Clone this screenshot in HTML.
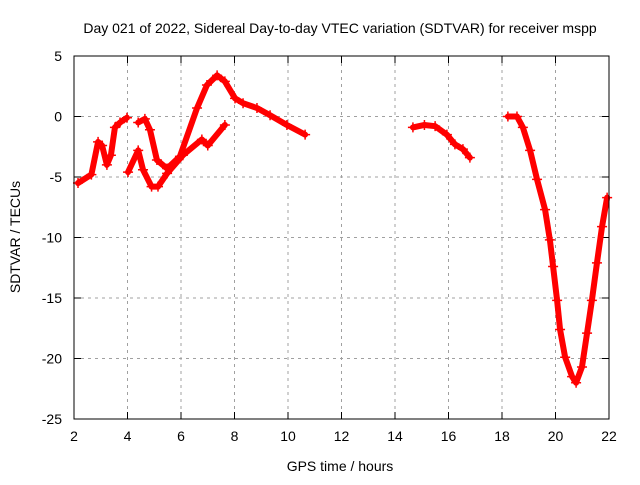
<!DOCTYPE html>
<html><head><meta charset="utf-8"><style>
body{margin:0;background:#fff}
svg text{font-family:"Liberation Sans",sans-serif;font-size:14px;fill:#000}
</style></head><body>
<svg id="c" width="640" height="480">
<text x="340" y="33" text-anchor="middle">Day 021 of 2022, Sidereal Day-to-day VTEC variation (SDTVAR) for receiver mspp</text>
<text x="340" y="471" text-anchor="middle">GPS time / hours</text>
<text transform="translate(20,237) rotate(-90)" text-anchor="middle">SDTVAR / TECUs</text>
<g id="grid"></g><g id="data"></g>
<rect x="74" y="56" width="535" height="363" fill="none" stroke="#000" stroke-width="1"/>
</svg>
<script>
const xTicks=[2,4,6,8,10,12,14,16,18,20,22];
const yTicks=[5,0,-5,-10,-15,-20,-25];
const segA=[[2.15,-5.5],[2.65,-4.8],[2.9,-2.1],[3.05,-2.4],[3.23,-4.0],[3.38,-3.2],[3.53,-0.9],[3.72,-0.5],[3.98,-0.1]];
const segB=[[4.02,-4.6],[4.4,-2.8],[4.58,-4.4],[4.9,-5.8],[5.14,-5.8],[5.48,-4.7],[6.07,-3.2],[6.78,-1.9],[7.0,-2.4],[7.64,-0.7]];
const segC=[[4.4,-0.5],[4.65,-0.2],[4.84,-1.1],[5.1,-3.6],[5.48,-4.3],[5.96,-3.3],[6.6,0.7],[6.97,2.6],[7.35,3.4],[7.64,2.9],[8.02,1.5],[8.32,1.1],[8.84,0.7],[9.33,0.1],[9.96,-0.7],[10.64,-1.5]];
const segD=[[14.67,-0.9],[15.1,-0.7],[15.5,-0.8],[15.94,-1.5],[16.24,-2.3],[16.54,-2.7],[16.8,-3.4]];
const segE=[[18.22,0.0],[18.56,0.0],[18.78,-0.9],[19.05,-2.8],[19.31,-5.2],[19.61,-7.7],[19.79,-10.2],[19.91,-12.4],[20.06,-15.2],[20.17,-17.6],[20.36,-19.9],[20.62,-21.5],[20.77,-22.0],[20.99,-20.7],[21.18,-17.9],[21.36,-15.2],[21.55,-12.1],[21.74,-9.1],[21.93,-6.7]];
const X=t=>74+(t-2)*535/20, Y=v=>56+(5-v)*363/30;
const NS="http://www.w3.org/2000/svg";
const svg=document.getElementById('c'),g=document.getElementById('grid'),d=document.getElementById('data');
function mk(tag,at,p){const e=document.createElementNS(NS,tag);for(const k in at)e.setAttribute(k,at[k]);p.appendChild(e);return e;}
xTicks.forEach(t=>{
 if(t>2&&t<22){const l=mk('line',{x1:X(t),x2:X(t),y1:56,y2:419,stroke:'#a0a0a0','stroke-dasharray':'3,4'},g);
 
 }
 mk('line',{x1:X(t),x2:X(t),y1:419,y2:412,stroke:'#000'},g);mk('line',{x1:X(t),x2:X(t),y1:56,y2:63,stroke:'#000'},g);
 const tx=mk('text',{x:X(t),y:441,'text-anchor':'middle'},g);tx.textContent=t;
 
 
});
yTicks.forEach(v=>{
 if(v<5&&v>-25){const l=mk('line',{x1:74,x2:609,y1:Y(v),y2:Y(v),stroke:'#a0a0a0','stroke-dasharray':'3,4'},g);
 
 }
 mk('line',{x1:74,x2:81,y1:Y(v),y2:Y(v),stroke:'#000'},g);mk('line',{x1:602,x2:609,y1:Y(v),y2:Y(v),stroke:'#000'},g);
 const tx=mk('text',{x:62,y:Y(v)+5,'text-anchor':'end'},g);tx.textContent=v;
 
 
});
[segA,segB,segC,segD,segE].forEach(s=>{
 const pl=mk('polyline',{points:s.map(p=>X(p[0])+','+Y(p[1])).join(' '),fill:'none',stroke:'#f00','stroke-width':6,'stroke-linejoin':'round','stroke-linecap':'round'},d);
 
 
 s.forEach(p=>{const x=X(p[0]),y=Y(p[1]);
  const m=mk('path',{d:`M${x-5},${y}h10M${x},${y-5}v10`,stroke:'#f00','stroke-width':1.5},d);
  
  });
});
</script>
</body></html>
